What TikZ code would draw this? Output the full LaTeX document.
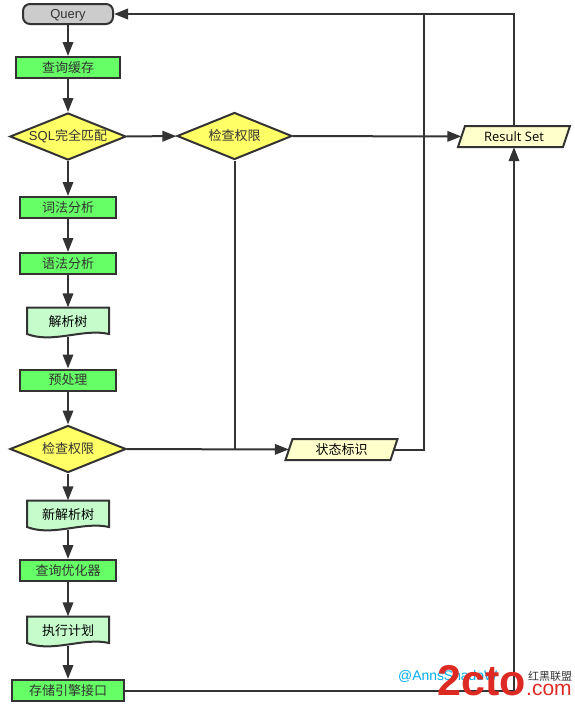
\documentclass[tikz,border=0pt]{standalone}
\usepackage{fontspec}
\usepackage{tikz}
\usetikzlibrary{arrows.meta, shapes.geometric, backgrounds}
\setmainfont{Liberation Sans}
\newfontfamily\cjk{Noto Sans CJK SC}
\newfontfamily\rsfont{Open Sans}
\definecolor{linegray}{HTML}{333333}
\definecolor{boxgreen}{HTML}{66FF66}
\definecolor{boxyellow}{HTML}{FFFF66}
\definecolor{docgreen}{HTML}{C6FCCC}
\definecolor{iocream}{HTML}{FFFFCC}
\definecolor{logored}{HTML}{DD2A22}
\tikzset{
  outline/.style={draw=linegray, line width=2pt},
  startbox/.style={outline, fill=gray!40, rounded corners=7pt, minimum width=90pt, minimum height=20pt, inner sep=0pt, text=linegray, text height=10.5pt, text depth=1.5pt, font=\fontsize{13}{15}\selectfont},
  procbox/.style={outline, fill=boxgreen, minimum height=21pt, inner sep=0pt, text=linegray, font=\cjk\fontsize{13}{15}\selectfont},
  choicebox/.style={outline, fill=boxyellow, diamond, aspect=2.45, minimum width=116pt, minimum height=47pt, inner sep=0pt, text=linegray, font=\cjk\fontsize{13}{15}\selectfont},
  docbox/.style={minimum width=82pt, minimum height=29pt, inner sep=0pt, font=\cjk\fontsize{13}{15}\selectfont},
  iobox/.style={minimum width=105pt, minimum height=21pt, inner sep=0pt, font=\cjk\fontsize{13}{15}\selectfont},
  flow/.style={draw=linegray, line width=2pt, -{Triangle[length=14pt,width=10.5pt]}},
  plainflow/.style={draw=linegray, line width=2pt}
}
% wavy document box
\newcommand{\docnode}[3]{
  \node[docbox] (#1) at (#2) {\raisebox{-2pt}{#3}};
  \begin{scope}[on background layer, shift={(#1.center)}]
    \draw[outline, fill=docgreen] (-41,-14.5) -- (41,-14.5) -- (41,12) .. controls (15,6) and (-15,22) .. (-41,12) -- cycle;
  \end{scope}
}
% slanted data box
\newcommand{\ionode}[3]{
  \node[iobox] (#1) at (#2) {\raisebox{-1pt}{#3}};
  \begin{scope}[on background layer, shift={(#1.center)}]
    \draw[outline, fill=iocream] (-56,10.5) -- (-49,-10.5) -- (56,-10.5) -- (49,10.5) -- cycle;
  \end{scope}
}

\begin{document}
\begin{tikzpicture}[x=1pt, y=-1pt]
        \useasboundingbox (0,0) rectangle (575,707);
        % Left column
        \node[startbox] (query) at (68,14) {Query};
        \node[procbox, minimum width=104pt] (cache) at (68,67.5) {查询缓存};
        \node[choicebox] (match) at (68,136.5) {{\rmfamily SQL}完全匹配};
        \node[procbox, minimum width=96pt] (lexer) at (68,207.5) {词法分析};
        \node[procbox, minimum width=96pt] (parser) at (68,263.5) {语法分析};
        \docnode{tree}{68,322}{解析树}
        \node[procbox, minimum width=96pt] (prep) at (68,380) {预处理};
        \node[choicebox] (checkb) at (68,449) {检查权限};
        \docnode{newtree}{68,515}{新解析树}
        \node[procbox, minimum width=96pt] (optim) at (68,570.5) {查询优化器};
        \docnode{plan}{68,631}{执行计划}
        \node[procbox, minimum width=112pt] (engine) at (68,690.5) {存储引擎接口};

        % Right side
        \node[choicebox, minimum width=115pt] (checka) at (234.5,136) {检查权限};
        \ionode{status}{341.5,449.5}{状态标识}
        \ionode{result}{514,136.5}{\rsfont Result Set}
        \coordinate (merge) at (424,14);

        % Main chain
        \draw[flow] (query) -- (cache);
        \draw[flow] (cache) -- (match);
        \draw[flow] (match) -- (lexer);
        \draw[flow] (lexer) -- (parser);
        \draw[flow] (parser) -- (tree);
        \draw[flow] (tree) -- (prep);
        \draw[flow] (prep) -- (checkb);
        \draw[flow] (checkb) -- (newtree);
        \draw[flow] (newtree) -- (optim);
        \draw[flow] (optim) -- (plan);
        \draw[flow] (plan) -- (engine);

        % Branches
        \draw[flow] (match) -- (checka);
        \draw[flow] (checka) -- (result);
        \draw[plainflow] (checka) -- (checka |- checkb);
        \draw[flow] (checkb) -- (status);
        \draw[plainflow] (status) -- (status -| merge) -- (merge);
        \draw[flow] (result.north) |- (query.east);
        \draw[flow] (engine.east) -| (result.south);

        % Watermark
        \node[anchor=base west, inner sep=0pt, text=cyan, font=\fontsize{13.9}{16}\selectfont] (handle) at (398,680) {@AnnsShadoW};
        \node[anchor=base west, inner sep=0pt, text=logored, font=\bfseries\fontsize{43}{44}\selectfont] (logo) at (437,695) {2cto};
        \node[anchor=base west, inner sep=0pt, text=logored, font=\fontsize{21}{22}\selectfont] (logocom) at (526,695) {.com};
        \node[anchor=base west, inner sep=0pt, text=linegray, font=\cjk\fontsize{11}{11}\selectfont] (logotag) at (528,680) {红黑联盟};
    \end{tikzpicture}
\end{document}
